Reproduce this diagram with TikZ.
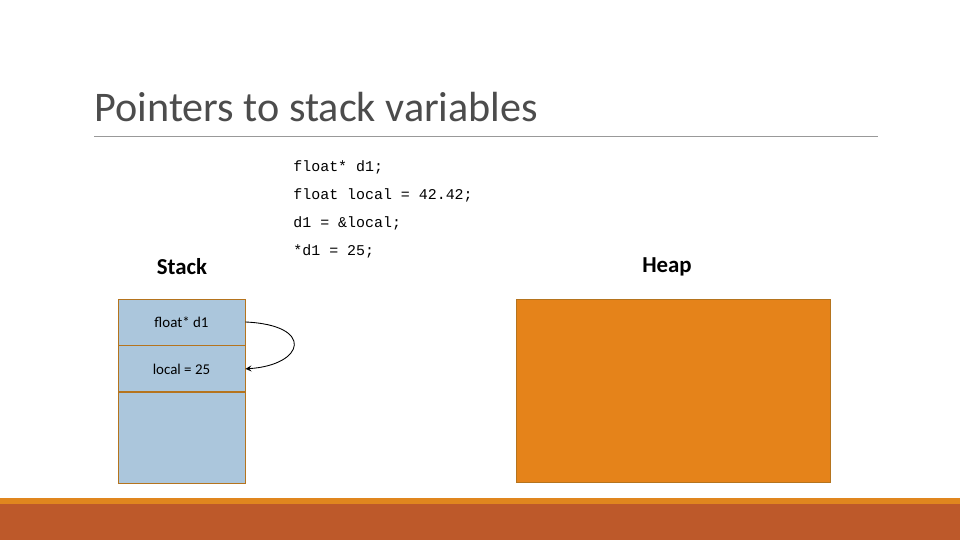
\documentclass[tikz,border=0pt]{standalone}
\usepackage{fontspec}
\setmainfont{Carlito}
\setmonofont{Liberation Mono}
\usetikzlibrary{positioning}
\definecolor{stackblue}{HTML}{ABC6DC}
\definecolor{heaporange}{HTML}{E5831A}
\definecolor{boxedge}{HTML}{B5741E}
\definecolor{barlight}{HTML}{E0861E}
\definecolor{bardark}{HTML}{BD592A}
\begin{document}
\begin{tikzpicture}[x=0.02cm, y=-0.02cm, >=stealth, line width=0.5pt]
            % Define the frame
            \useasboundingbox (0,0) rectangle (960,540);
            \fill[barlight] (0,498) rectangle (960,504);
            \fill[bardark] (0,504) rectangle (960,540);
            % Title
            \node[anchor=base west, inner sep=0, text=black!70, font=\fontsize{24}{28}\selectfont] (title) at (94,122) {Pointers to stack variables};
            \draw[black!40] (94,136) -- (878,136);
            % Code lines
            \foreach \t [count=\i] in {float* d1;, float local = 42.42;, d1 = \&local;, *d1 = 25;} {
                \node[anchor=base west, inner sep=0, font=\ttfamily\fontsize{8.5}{10}\selectfont] (L\i) at (293,{144+28*\i}) {\t};
            }
            % Labels
            \node[font=\bfseries\fontsize{13}{15}\selectfont] (stacklbl) at (182,267) {Stack};
            \node[font=\bfseries\fontsize{13}{15}\selectfont] (heaplbl) at (667,267) {Heap};
            % Stack cells
            \node[draw=boxedge, fill=stackblue, minimum width=127*0.02cm, minimum height=46*0.02cm, inner sep=0, font=\fontsize{8.5}{10}\selectfont] (d1) at (181.5,322) {float* d1};
            \node[draw=boxedge, fill=stackblue, minimum width=127*0.02cm, minimum height=46*0.02cm, inner sep=0, font=\fontsize{8.5}{10}\selectfont, below=0pt of d1] (local) {local = 25};
            \node[draw=boxedge, fill=stackblue, minimum width=127*0.02cm, minimum height=91*0.02cm, inner sep=0, below=0pt of local] (rest) {};
            % Heap
            \node[draw=boxedge, fill=heaporange, minimum width=314*0.02cm, minimum height=183*0.02cm, inner sep=0] (heap) at (673,390.5) {};
            % Pointer
            \draw[->] (d1.east) .. controls (315,325) and (305,365) .. (local.east);
        \end{tikzpicture}
\end{document}
